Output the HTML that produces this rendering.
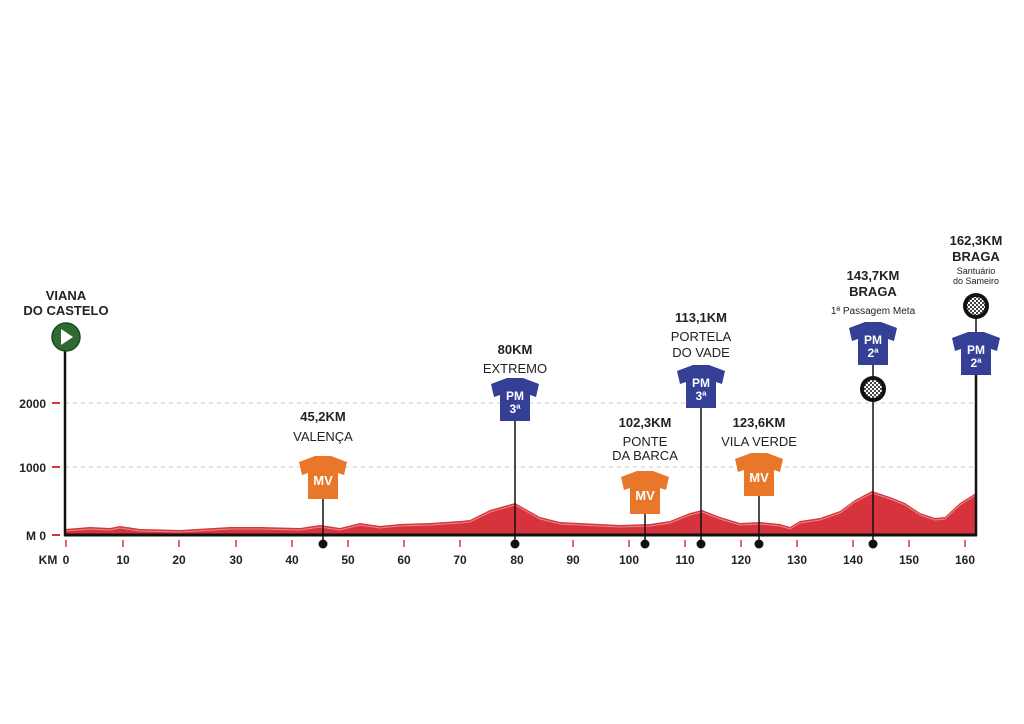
<!DOCTYPE html><html><head><meta charset="utf-8"><style>html,body{margin:0;padding:0;background:#fff}svg{display:block}text{font-family:"Liberation Sans",sans-serif;}</style></head><body>
<svg width="1024" height="724" viewBox="0 0 1024 724" xmlns="http://www.w3.org/2000/svg">
<defs>
<pattern id="chk" width="4" height="4" patternUnits="userSpaceOnUse"><rect width="4" height="4" fill="#fff"/><rect width="2" height="2" fill="#444"/><rect x="2" y="2" width="2" height="2" fill="#444"/></pattern>
</defs>
<g stroke="#ccc" stroke-dasharray="4,4" stroke-width="1">
<line x1="65" y1="403" x2="976" y2="403"/><line x1="65" y1="467" x2="976" y2="467"/></g>
<polygon fill="#d7333c" points="65,529 90,527 110,528 120,526 140,529 180,530 230,527 260,527 300,528 320,525 340,528 360,523 380,526 400,524 430,523 460,521 470,520 490,510 515,503 540,517 560,522 580,523 600,524 620,525 650,524 670,521 690,513 702,510 720,517 740,523 760,522 780,524 790,527 800,521 820,518 840,511 855,500 872,491 890,497 905,503 920,513 935,518 945,517 960,503 976,493 976,535 65,535"/>
<polyline fill="none" stroke="#e88a8a" stroke-width="1" points="65,531 90,529 110,530 120,528 140,531 180,532 230,529 260,529 300,530 320,527 340,530 360,525 380,528 400,526 430,525 460,523 470,522 490,512 515,505 540,519 560,524 580,525 600,526 620,527 650,526 670,523 690,515 702,512 720,519 740,525 760,524 780,526 790,529 800,523 820,520 840,513 855,502 872,493 890,499 905,505 920,515 935,520 945,519 960,505 976,495"/>
<line x1="65" y1="340" x2="65" y2="536" stroke="#111" stroke-width="2.5"/>
<line x1="976" y1="350" x2="976" y2="536" stroke="#111" stroke-width="2.5"/>
<line x1="64" y1="535" x2="977" y2="535" stroke="#111" stroke-width="3"/>
<g stroke="#d7333c" stroke-width="2"><line x1="52" y1="403" x2="60" y2="403"/><line x1="52" y1="467" x2="60" y2="467"/><line x1="52" y1="535" x2="60" y2="535"/></g>
<g font-size="12" font-weight="bold" fill="#222" text-anchor="end"><text x="46" y="408">2000</text><text x="46" y="472">1000</text><text x="46" y="540">M 0</text></g>
<g stroke="#d7333c" stroke-width="1.5">
<line x1="66" y1="540" x2="66" y2="547"/><line x1="123" y1="540" x2="123" y2="547"/><line x1="179" y1="540" x2="179" y2="547"/><line x1="236" y1="540" x2="236" y2="547"/><line x1="292" y1="540" x2="292" y2="547"/><line x1="348" y1="540" x2="348" y2="547"/><line x1="404" y1="540" x2="404" y2="547"/><line x1="460" y1="540" x2="460" y2="547"/><line x1="517" y1="540" x2="517" y2="547"/><line x1="573" y1="540" x2="573" y2="547"/><line x1="629" y1="540" x2="629" y2="547"/><line x1="685" y1="540" x2="685" y2="547"/><line x1="741" y1="540" x2="741" y2="547"/><line x1="797" y1="540" x2="797" y2="547"/><line x1="853" y1="540" x2="853" y2="547"/><line x1="909" y1="540" x2="909" y2="547"/><line x1="965" y1="540" x2="965" y2="547"/></g>
<g font-size="12" font-weight="bold" fill="#222" text-anchor="middle">
<text x="48" y="564">KM</text><text x="66" y="564">0</text><text x="123" y="564">10</text><text x="179" y="564">20</text><text x="236" y="564">30</text><text x="292" y="564">40</text><text x="348" y="564">50</text><text x="404" y="564">60</text><text x="460" y="564">70</text><text x="517" y="564">80</text><text x="573" y="564">90</text><text x="629" y="564">100</text><text x="685" y="564">110</text><text x="741" y="564">120</text><text x="797" y="564">130</text><text x="853" y="564">140</text><text x="909" y="564">150</text><text x="965" y="564">160</text></g>
<g stroke="#111" stroke-width="1.5">
<line x1="323" y1="495" x2="323" y2="544"/><line x1="515" y1="418" x2="515" y2="544"/><line x1="645" y1="510" x2="645" y2="544"/><line x1="701" y1="405" x2="701" y2="544"/><line x1="759" y1="493" x2="759" y2="544"/><line x1="873" y1="360" x2="873" y2="544"/><line x1="976" y1="318" x2="976" y2="340"/></g>
<g fill="#111"><circle cx="323" cy="544" r="4.5"/><circle cx="515" cy="544" r="4.5"/><circle cx="645" cy="544" r="4.5"/><circle cx="701" cy="544" r="4.5"/><circle cx="759" cy="544" r="4.5"/><circle cx="873" cy="544" r="4.5"/></g>
<circle cx="66" cy="337" r="14" fill="#2e6a32"/><circle cx="66" cy="337" r="14" fill="none" stroke="#1c4a20" stroke-width="1.5"/><polygon points="61,329 61,345 73,337" fill="#fff"/>
<circle cx="873" cy="389" r="13" fill="#111"/><circle cx="873" cy="389" r="9" fill="url(#chk)"/>
<circle cx="976" cy="306" r="13" fill="#111"/><circle cx="976" cy="306" r="9" fill="url(#chk)"/>
<g font-weight="bold" fill="#fff" text-anchor="middle">
<g transform="translate(323,456)"><path d="M-8,0 L8,0 L24,6 L21,19 L15,17 L15,43 L-15,43 L-15,17 L-21,19 L-24,6 Z" fill="#e8772a"/><text y="29" font-size="13">MV</text></g>
<g transform="translate(645,471)"><path d="M-8,0 L8,0 L24,6 L21,19 L15,17 L15,43 L-15,43 L-15,17 L-21,19 L-24,6 Z" fill="#e8772a"/><text y="29" font-size="13">MV</text></g>
<g transform="translate(759,453)"><path d="M-8,0 L8,0 L24,6 L21,19 L15,17 L15,43 L-15,43 L-15,17 L-21,19 L-24,6 Z" fill="#e8772a"/><text y="29" font-size="13">MV</text></g>
<g transform="translate(515,378)"><path d="M-8,0 L8,0 L24,6 L21,19 L15,17 L15,43 L-15,43 L-15,17 L-21,19 L-24,6 Z" fill="#343f95"/><text y="22" font-size="12">PM</text><text y="35" font-size="12">3ª</text></g>
<g transform="translate(701,365)"><path d="M-8,0 L8,0 L24,6 L21,19 L15,17 L15,43 L-15,43 L-15,17 L-21,19 L-24,6 Z" fill="#343f95"/><text y="22" font-size="12">PM</text><text y="35" font-size="12">3ª</text></g>
<g transform="translate(873,322)"><path d="M-8,0 L8,0 L24,6 L21,19 L15,17 L15,43 L-15,43 L-15,17 L-21,19 L-24,6 Z" fill="#343f95"/><text y="22" font-size="12">PM</text><text y="35" font-size="12">2ª</text></g>
<g transform="translate(976,332)"><path d="M-8,0 L8,0 L24,6 L21,19 L15,17 L15,43 L-15,43 L-15,17 L-21,19 L-24,6 Z" fill="#343f95"/><text y="22" font-size="12">PM</text><text y="35" font-size="12">2ª</text></g>
</g>
<g fill="#222" text-anchor="middle" font-size="13">
<text x="66" y="300" font-weight="bold">VIANA</text><text x="66" y="315" font-weight="bold">DO CASTELO</text>
<text x="323" y="421" font-weight="bold">45,2KM</text><text x="323" y="441">VALENÇA</text>
<text x="515" y="354" font-weight="bold">80KM</text><text x="515" y="373">EXTREMO</text>
<text x="645" y="427" font-weight="bold">102,3KM</text><text x="645" y="446">PONTE</text><text x="645" y="460">DA BARCA</text>
<text x="701" y="322" font-weight="bold">113,1KM</text><text x="701" y="341">PORTELA</text><text x="701" y="357">DO VADE</text>
<text x="759" y="427" font-weight="bold">123,6KM</text><text x="759" y="446">VILA VERDE</text>
<text x="873" y="280" font-weight="bold">143,7KM</text><text x="873" y="296" font-weight="bold">BRAGA</text><text x="873" y="314" font-size="10">1ª Passagem Meta</text>
<text x="976" y="245" font-weight="bold">162,3KM</text><text x="976" y="261" font-weight="bold">BRAGA</text><text x="976" y="274" font-size="9">Santuário</text><text x="976" y="284" font-size="9">do Sameiro</text>
</g>
</svg></body></html>
